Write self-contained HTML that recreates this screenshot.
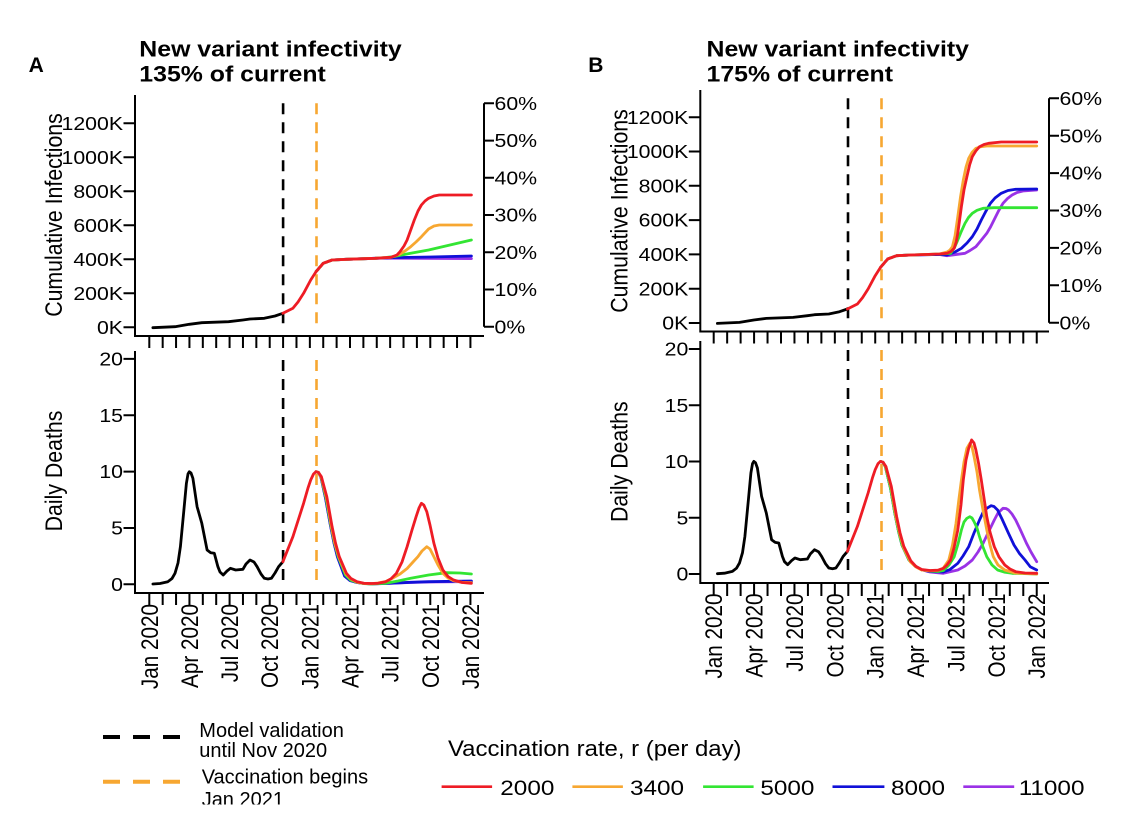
<!DOCTYPE html>
<html><head><meta charset="utf-8"><style>html,body{margin:0;padding:0;background:#fff;}svg{display:block}</style></head>
<body>
<svg width="1127" height="831" viewBox="0 0 1127 831" xmlns="http://www.w3.org/2000/svg" font-family="'Liberation Sans', Arial, sans-serif">
<rect width="1127" height="831" fill="#fff"/>
<defs><clipPath id="lc"><rect x="0" y="0" width="1127" height="804.5"/></clipPath></defs>

<!-- Titles -->
<text x="28.6" y="72" font-size="21" font-weight="bold">A</text>
<text transform="translate(139.3,56.5) scale(1.13,1)" font-size="22" font-weight="bold">New variant infectivity</text>
<text transform="translate(139.3,81.5) scale(1.13,1)" font-size="22" font-weight="bold">135% of current</text>
<text x="588.2" y="72" font-size="21" font-weight="bold">B</text>
<text transform="translate(706.5,56.5) scale(1.13,1)" font-size="22" font-weight="bold">New variant infectivity</text>
<text transform="translate(706.5,81.5) scale(1.13,1)" font-size="22" font-weight="bold">175% of current</text>

<g fill="none" stroke="#000" stroke-width="2">
<!-- A axes -->
<path d="M135,95V336H484"/>
<path d="M484,103.3V326.7"/>
<path d="M135,351V593H484"/>
<path d="M123.5,327.3H135M123.5,293.3H135M123.5,259.3H135M123.5,225.3H135M123.5,191.3H135M123.5,157.3H135M123.5,123.3H135"/>
<path d="M484,326.7H494M484,289.5H494M484,252.2H494M484,215H494M484,177.8H494M484,140.6H494M484,103.3H494"/>
<path d="M123.5,584.3H135M123.5,527.95H135M123.5,471.6H135M123.5,415.25H135M123.5,358.9H135"/>
<path d="M149.3,336v12m13.38,-12v12m13.38,-12v12m13.38,-12v12m13.38,-12v12m13.38,-12v12m13.38,-12v12m13.38,-12v12m13.38,-12v12m13.38,-12v12m13.38,-12v12m13.38,-12v12m13.38,-12v12m13.38,-12v12m13.38,-12v12m13.38,-12v12m13.38,-12v12m13.38,-12v12m13.38,-12v12m13.38,-12v12m13.38,-12v12m13.38,-12v12m13.38,-12v12m13.38,-12v12m13.38,-12v12"/>
<path d="M149.3,593v12m13.38,-12v12m13.38,-12v12m13.38,-12v12m13.38,-12v12m13.38,-12v12m13.38,-12v12m13.38,-12v12m13.38,-12v12m13.38,-12v12m13.38,-12v12m13.38,-12v12m13.38,-12v12m13.38,-12v12m13.38,-12v12m13.38,-12v12m13.38,-12v12m13.38,-12v12m13.38,-12v12m13.38,-12v12m13.38,-12v12m13.38,-12v12m13.38,-12v12m13.38,-12v12m13.38,-12v12"/>
<!-- B axes -->
<path d="M700.3,90V331.5H1049"/>
<path d="M1049,98.3V322.7"/>
<path d="M700.3,341V583H1049"/>
<path d="M688.8,323H700.3M688.8,288.7H700.3M688.8,254.4H700.3M688.8,220.1H700.3M688.8,185.8H700.3M688.8,151.5H700.3M688.8,117.2H700.3"/>
<path d="M1049,322.7H1059M1049,285.3H1059M1049,247.9H1059M1049,210.5H1059M1049,173.1H1059M1049,135.7H1059M1049,98.3H1059"/>
<path d="M688.8,574H700.3M688.8,517.75H700.3M688.8,461.5H700.3M688.8,405.25H700.3M688.8,349H700.3"/>
<path d="M713.7,331.5v12m13.46,-12v12m13.46,-12v12m13.46,-12v12m13.46,-12v12m13.46,-12v12m13.46,-12v12m13.46,-12v12m13.46,-12v12m13.46,-12v12m13.46,-12v12m13.46,-12v12m13.46,-12v12m13.46,-12v12m13.46,-12v12m13.46,-12v12m13.46,-12v12m13.46,-12v12m13.46,-12v12m13.46,-12v12m13.46,-12v12m13.46,-12v12m13.46,-12v12m13.46,-12v12m13.46,-12v12"/>
<path d="M713.7,583v13m13.46,-13v13m13.46,-13v13m13.46,-13v13m13.46,-13v13m13.46,-13v13m13.46,-13v13m13.46,-13v13m13.46,-13v13m13.46,-13v13m13.46,-13v13m13.46,-13v13m13.46,-13v13m13.46,-13v13m13.46,-13v13m13.46,-13v13m13.46,-13v13m13.46,-13v13m13.46,-13v13m13.46,-13v13m13.46,-13v13m13.46,-13v13m13.46,-13v13m13.46,-13v13m13.46,-13v13"/>
</g>

<!-- tick labels -->
<g font-size="18.5" fill="#000">
<g text-anchor="end">
<text transform="translate(123,129.9) scale(1.15,1)">1200K</text>
<text transform="translate(123,163.9) scale(1.15,1)">1000K</text>
<text transform="translate(123,197.9) scale(1.15,1)">800K</text>
<text transform="translate(123,231.9) scale(1.15,1)">600K</text>
<text transform="translate(123,265.9) scale(1.15,1)">400K</text>
<text transform="translate(123,299.9) scale(1.15,1)">200K</text>
<text transform="translate(123,333.9) scale(1.15,1)">0K</text>
<text transform="translate(123,365.5) scale(1.15,1)">20</text>
<text transform="translate(123,421.85) scale(1.15,1)">15</text>
<text transform="translate(123,478.2) scale(1.15,1)">10</text>
<text transform="translate(123,534.55) scale(1.15,1)">5</text>
<text transform="translate(123,590.9) scale(1.15,1)">0</text>
<text transform="translate(688.3,123.8) scale(1.15,1)">1200K</text>
<text transform="translate(688.3,158.1) scale(1.15,1)">1000K</text>
<text transform="translate(688.3,192.4) scale(1.15,1)">800K</text>
<text transform="translate(688.3,226.7) scale(1.15,1)">600K</text>
<text transform="translate(688.3,261) scale(1.15,1)">400K</text>
<text transform="translate(688.3,295.3) scale(1.15,1)">200K</text>
<text transform="translate(688.3,329.6) scale(1.15,1)">0K</text>
<text transform="translate(688.3,355.6) scale(1.15,1)">20</text>
<text transform="translate(688.3,411.85) scale(1.15,1)">15</text>
<text transform="translate(688.3,468.1) scale(1.15,1)">10</text>
<text transform="translate(688.3,524.35) scale(1.15,1)">5</text>
<text transform="translate(688.3,580.6) scale(1.15,1)">0</text>
</g>
<text transform="translate(494.5,109.9) scale(1.15,1)">60%</text>
<text transform="translate(494.5,147.2) scale(1.15,1)">50%</text>
<text transform="translate(494.5,184.4) scale(1.15,1)">40%</text>
<text transform="translate(494.5,221.6) scale(1.15,1)">30%</text>
<text transform="translate(494.5,258.8) scale(1.15,1)">20%</text>
<text transform="translate(494.5,296.1) scale(1.15,1)">10%</text>
<text transform="translate(494.5,333.3) scale(1.15,1)">0%</text>
<text transform="translate(1059.5,104.9) scale(1.15,1)">60%</text>
<text transform="translate(1059.5,142.3) scale(1.15,1)">50%</text>
<text transform="translate(1059.5,179.7) scale(1.15,1)">40%</text>
<text transform="translate(1059.5,217.1) scale(1.15,1)">30%</text>
<text transform="translate(1059.5,254.5) scale(1.15,1)">20%</text>
<text transform="translate(1059.5,291.9) scale(1.15,1)">10%</text>
<text transform="translate(1059.5,329.3) scale(1.15,1)">0%</text>
</g>
<g font-size="20.7" text-anchor="end">
<text transform="translate(157.8,604) rotate(-90) scale(1,1.15)">Jan 2020</text>
<text transform="translate(197.9,604) rotate(-90) scale(1,1.15)">Apr 2020</text>
<text transform="translate(238.1,604) rotate(-90) scale(1,1.15)">Jul 2020</text>
<text transform="translate(278.2,604) rotate(-90) scale(1,1.15)">Oct 2020</text>
<text transform="translate(318.4,604) rotate(-90) scale(1,1.15)">Jan 2021</text>
<text transform="translate(358.5,604) rotate(-90) scale(1,1.15)">Apr 2021</text>
<text transform="translate(398.6,604) rotate(-90) scale(1,1.15)">Jul 2021</text>
<text transform="translate(438.8,604) rotate(-90) scale(1,1.15)">Oct 2021</text>
<text transform="translate(478.9,604) rotate(-90) scale(1,1.15)">Jan 2022</text>
<text transform="translate(722.2,593.5) rotate(-90) scale(1,1.15)">Jan 2020</text>
<text transform="translate(762.6,593.5) rotate(-90) scale(1,1.15)">Apr 2020</text>
<text transform="translate(803,593.5) rotate(-90) scale(1,1.15)">Jul 2020</text>
<text transform="translate(843.3,593.5) rotate(-90) scale(1,1.15)">Oct 2020</text>
<text transform="translate(883.7,593.5) rotate(-90) scale(1,1.15)">Jan 2021</text>
<text transform="translate(924.1,593.5) rotate(-90) scale(1,1.15)">Apr 2021</text>
<text transform="translate(964.5,593.5) rotate(-90) scale(1,1.15)">Jul 2021</text>
<text transform="translate(1004.9,593.5) rotate(-90) scale(1,1.15)">Oct 2021</text>
<text transform="translate(1045.2,593.5) rotate(-90) scale(1,1.15)">Jan 2022</text>
</g>
<g font-size="21.3" text-anchor="middle">
<text transform="translate(62,215) rotate(-90) scale(1,1.12)">Cumulative Infections</text>
<text transform="translate(62,471) rotate(-90) scale(1,1.12)">Daily Deaths</text>
<text transform="translate(627.3,211) rotate(-90) scale(1,1.12)">Cumulative Infections</text>
<text transform="translate(627.3,461.7) rotate(-90) scale(1,1.12)">Daily Deaths</text>
</g>

<!-- dashed lines -->
<g fill="none" stroke-width="2.6" stroke-dasharray="11 8">
<path stroke="#000" d="M283.1,103.3V327.7M283.1,360V584.3"/>
<path stroke="#f7a731" d="M316.5,103.3V327.7M316.5,360V584.3"/>
<path stroke="#000" d="M848,98.3V322.7M848,350V574"/>
<path stroke="#f7a731" d="M881.5,98.3V322.7M881.5,350V574"/>
</g>

<g fill="none" stroke-width="2.8" stroke-linejoin="round" stroke-linecap="round">
<!-- ===== A top ===== -->
<path stroke="#000" d="M152.9,327.7L175,326.7L189.3,324.3L201.8,322.7L228.6,321.7L242.9,320L250,319L264.3,318.3L275,316L282.9,313.3"/>
<path stroke="#9a32e6" d="M316,271.7L323.2,263.3L332.1,260L346.4,259.3L375,258.3L392.9,258.2L471.4,258.6"/>
<path stroke="#1010d8" d="M316,271.7L323.2,263.3L332.1,260L346.4,259.3L375,258.3L392.9,257.6L430,257L471.4,256"/>
<path stroke="#33e533" d="M316,271.7L323.2,263.3L332.1,260L346.4,259.3L375,258.3L385.7,257.5L392.9,256.7L410.7,253.3L428.6,250L450,245L471.4,240"/>
<path stroke="#f7a731" d="M316,271.7L323.2,263.3L332.1,260L346.4,259.3L375,258.3L391,257.3L400,254L405,251L410.7,246.7L416,242L421.4,236.7L428.6,229L434,226L439.3,225L471.4,225"/>
<path stroke="#ee1c25" d="M282.9,313.3L292.9,308.3L298,302L303.6,293.3L310.7,280L316,271.7L323.2,263.3L332.1,260L346.4,259.3L375,258.3L391,257.3L397,255L400,251.7L404,246L407.1,240L410.7,230L414.3,220L418,211L421.4,205L425,201L428.6,198.3L434,196L439.3,195L471.4,195"/>

<!-- ===== A bottom ===== -->
<path stroke="#000" d="M152.9,584L160,583.5L167.9,581.7L172,578.5L175,573.3L178,563L180.4,546.7L183.9,510L186.4,483.3L188,474L189.3,471.7L191,473L192.9,478.3L197.1,506.7L201.8,523.3L207.1,550L210.7,552.7L214.3,553.3L217.9,566.7L220,572L223.2,575L227,571L230.4,568.3L235.7,570L242.9,569.3L246,564L250,560L254,562L257.1,566.7L261,574L264.3,578.3L268,579L271.4,578.3L275,573L278.6,566.7L282.9,561.7"/>
<path stroke="#9a32e6" d="M316,471.7L318.5,472.5L321,477.5L325.5,498L330.4,525L334,543L337.5,557L344.6,576L350,580.5L357,582.5L364,583.5L371.4,583.8L385.7,583.5L410,582.5L428.6,582L471.4,581.6"/>
<path stroke="#1010d8" d="M316,471.7L318.5,472.5L321,477.5L325.5,498L330.4,525L334,543L337.5,557L344.6,576L350,580.5L357,582.5L364,583.5L371.4,583.8L385.7,583.5L410,582.3L428.6,581.7L471.4,581"/>
<path stroke="#33e533" d="M316,471.7L318.5,472.5L321.2,477.5L326,498L331,526L334.5,543L338.3,557L345.5,575L350.5,580L357,582.3L364,583.6L371.4,584L385.7,583.3L398,581L410.7,578.3L428.6,575L446.4,572.7L460,573L471.4,574"/>
<path stroke="#f7a731" d="M316,471.7L318.5,472.5L321.4,477.5L326.5,498L331.5,527L335,544L339,557.5L346,574L351,579L357.1,582.2L364,583.5L371.4,583.7L378,583L385.7,581.5L392,578.5L400,574L407.1,568.5L413,562L417.9,556.7L422,551L426.8,546.7L430,549L433.9,556.7L438,565L442.9,573.3L448,578L453.6,580.7L462,582.3L471.4,582.7"/>
<path stroke="#ee1c25" d="M282.9,561.7L292.9,536.7L303.6,503.3L308,488L310.7,480L313.5,474L316,471.7L318.5,472.5L321.4,476.7L326.8,496.7L332.1,526.7L335.5,543L339.3,556.7L346.4,573.3L351,578.5L357.1,581.7L364,583.3L371.4,583.5L378,583.3L385.7,581.7L391,578.8L396.4,573.3L402,562L407.1,546.7L412,530L416.1,516.7L419,508L421.4,503.3L423.8,505L426.8,511.7L430,525L433.9,543.3L438,558L442.9,570L448,576.5L453.6,580L462,582.5L471.4,583.3"/>

<!-- ===== B top ===== -->
<path stroke="#000" d="M717.4,323.4L739.5,322.4L753.8,320L766.3,318.4L793.1,317.4L807.4,315.7L814.5,314.7L828.8,314L839.5,311.7L847.4,309"/>
<path stroke="#9a32e6" d="M880.5,267.4L887.7,259L896.6,255.7L910.9,255L939.5,254.5L947,255.7L965,253.3L970,250.5L975.9,246.7L981,240.5L986.8,233.3L990.5,227L994,220L998.5,211L1003,203.3L1007.5,198.5L1012.1,195L1017,192.5L1022.9,191L1036.7,190"/>
<path stroke="#1010d8" d="M880.5,267.4L887.7,259L896.6,255.7L910.9,255L939.5,254.5L947,255L955,252L961.4,248.3L967,243L972.3,236.7L977,229L981.3,220L986,211L990.4,203.3L995,198L1001.2,193.3L1008,190.5L1015.7,189.3L1036.7,189"/>
<path stroke="#33e533" d="M880.5,267.4L887.7,259L896.6,255.7L910.9,255L939.5,254L950.6,253.3L954.5,247.5L957.8,240L961.5,231L965,223.3L968.5,217.5L972.3,213.3L977,210.3L983.1,208.3L994,207.7L1036.7,207.7"/>
<path stroke="#f7a731" d="M880.5,267.4L887.7,259L896.6,255.7L910.9,255L939.5,254L947,252L950,250L952.4,246.7L955,236L957.8,216.7L960.5,197L963.3,180L966,167L968.7,158.3L972,152.5L975.9,148.3L981,146.7L986.8,146L1036.7,146"/>
<path stroke="#ee1c25" d="M847.4,309L857.4,304L862.5,297.7L868.1,289L875.2,275.7L880.5,267.4L887.7,259L896.6,255.7L910.9,255L939.5,254L947,253.3L951,251.5L954.2,248.3L956.2,242L957.8,233.3L959.6,220L961.4,206.7L964,190L966.9,176.7L969.6,165L972.3,156.7L975.8,151L979.5,146.7L984,144.5L988.6,143.3L1001.2,142L1036.7,142"/>

<!-- ===== B bottom ===== -->
<path stroke="#000" transform="translate(564.5,-10.3)" d="M152.9,584L160,583.5L167.9,581.7L172,578.5L175,573.3L178,563L180.4,546.7L183.9,510L186.4,483.3L188,474L189.3,471.7L191,473L192.9,478.3L197.1,506.7L201.8,523.3L207.1,550L210.7,552.7L214.3,553.3L217.9,566.7L220,572L223.2,575L227,571L230.4,568.3L235.7,570L242.9,569.3L246,564L250,560L254,562L257.1,566.7L261,574L264.3,578.3L268,579L271.4,578.3L275,573L278.6,566.7L282.9,561.7"/>
<path stroke="#9a32e6" d="M880.5,461.4L883,462.2L885.5,467L890.5,488L895,514L898.5,531L902,545L909,560L915,566L921.7,569.8L930,572L943.4,573.3L957.8,570L965,566L972.3,560L978,552L983.1,543.3L988,533L994.3,520L998,513L1003,508.3L1006,508.5L1008.5,510L1012,514L1015.7,520L1020,529L1026.5,543.3L1031,552L1036.7,561.7"/>
<path stroke="#1010d8" d="M880.5,461.4L883,462.2L885.5,467L890.5,488L895,514L898.5,531L902,545L909,560L915,566L921.7,569.8L930,571.5L943.4,572L950,569.5L957.8,563.3L963,556L968.7,546.7L974,533L979.5,520L983,512.5L986.8,508.3L991.1,505.7L994,506.5L997.6,510L1002,519L1008.5,533.3L1014,545L1019.3,553.3L1025,560L1030.2,566.7L1036.7,570"/>
<path stroke="#33e533" d="M880.5,461.4L883,462.2L885.5,467L890.5,488L895,514L898.5,531L902,545L909,560L915,566L921.7,569.8L930,571L938,571.5L943.4,570.5L949,565L954.2,556.7L958,544L961.4,530L964,522L966.9,518.3L969.8,516.7L972,518L974.1,521.7L977,528L979.5,536.7L983,547L986.8,556.7L992,565L997.6,570L1005,572.3L1012.1,573.3L1036.7,574"/>
<path stroke="#f7a731" d="M880.5,461.4L883,462.2L885.9,467L891,487L896,517L899.5,533L903.3,547L910.4,562L916,567L921.7,570L930,570.8L938,570.3L943,568.5L948.8,560L952.5,545L956,523.3L958.8,500L961.4,480L964,462L966.9,448.3L969.8,443.3L972,447L974.1,456.7L977,472L979.5,490L983,510L986.8,530L990,545L993.3,556.7L998,565L1004.8,570L1015,573L1036.7,574"/>
<path stroke="#ee1c25" d="M847.4,551.4L857.4,526.4L868.1,493L872.5,477.7L875.2,469.7L878,463.7L880.5,461.4L883,462.2L885.9,466.4L891.3,486.4L896.6,516.4L900,532.7L903.8,546.4L910.9,561L916,566.5L921.7,569.5L930,570.5L938,570.2L943.4,568.3L947,565L950.6,560L954,548L957.8,530L961,505L963.3,480L966,460L968.7,448.3L971.6,440L974,443L975.9,450L978.5,463L981.3,480L984,498L986.8,516.7L990,532L994.3,546.7L999,557L1004.8,565L1010,569L1015.7,571.7L1025,573L1036.7,573.3"/>
</g>

<!-- Legend -->
<path d="M103,737H180" stroke="#000" stroke-width="4" stroke-dasharray="17 13" fill="none"/>
<path d="M103,781.7H180" stroke="#f7a731" stroke-width="4" stroke-dasharray="17 13" fill="none"/>
<g font-size="20">
<text x="199.3" y="737">Model validation</text>
<text x="199.3" y="757">until Nov 2020</text>
<text x="201.7" y="783.3">Vaccination begins</text>
<text x="201.7" y="806" clip-path="url(#lc)">Jan 2021</text>
</g>
<text transform="translate(448,756) scale(1.06,1)" font-size="22.6">Vaccination rate, r (per day)</text>
<g stroke-width="2.6" fill="none">
<path stroke="#ee1c25" d="M441.6,786.7H492.1"/>
<path stroke="#f7a731" d="M572.4,786.7H622.9"/>
<path stroke="#33e533" d="M703.1,786.7H753.6"/>
<path stroke="#1010d8" d="M832.5,786.7H884.4"/>
<path stroke="#9a32e6" d="M963.3,786.7H1014.2"/>
</g>
<g font-size="21.5">
<text transform="translate(500.3,795) scale(1.13,1)">2000</text>
<text transform="translate(630,795) scale(1.13,1)">3400</text>
<text transform="translate(760.4,795) scale(1.13,1)">5000</text>
<text transform="translate(891,795) scale(1.13,1)">8000</text>
<text transform="translate(1018.7,795) scale(1.13,1)">11000</text>
</g>
</svg>
</body></html>
